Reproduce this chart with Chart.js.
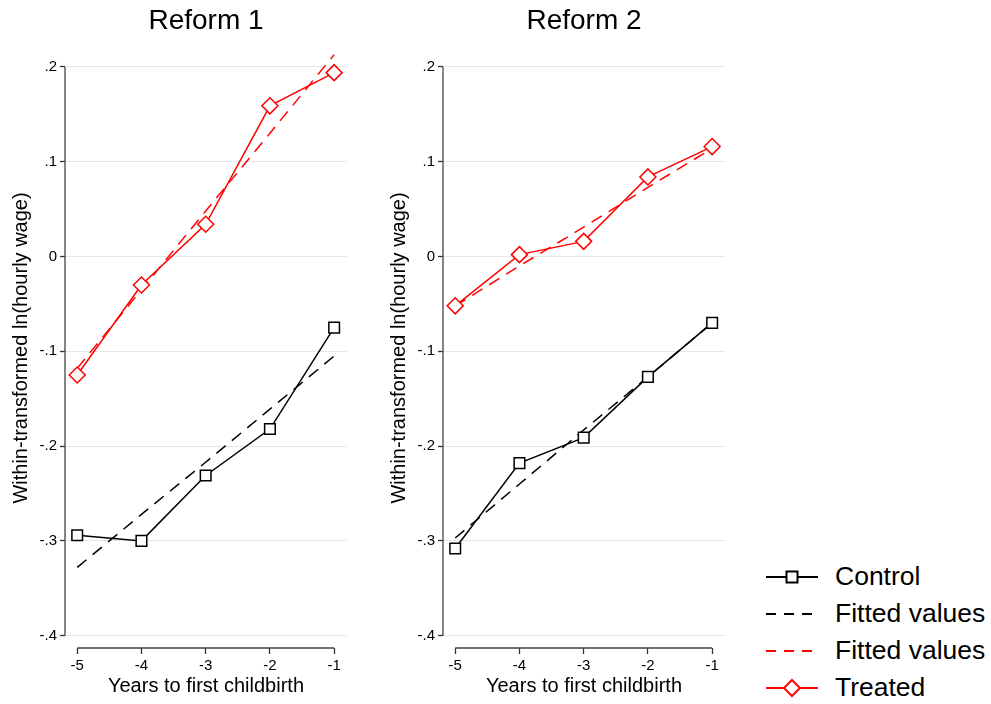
<!DOCTYPE html>
<html>
<head>
<meta charset="utf-8">
<script src="https://cdn.jsdelivr.net/npm/chart.js@4.4.1/dist/chart.umd.min.js"></script>
<style>
  body { margin: 0; background: #fff; width: 991px; height: 704px; position: relative; overflow: hidden;
         font-family: "Liberation Sans", Arial, sans-serif; }
  canvas { position: absolute; top: 0; }
  #c1 { left: 0; }
  #c2 { left: 378px; }
  #legend { position: absolute; left: 766px; top: 558px; }
  .row { height: 37px; display: flex; align-items: center; font-size: 26.5px; color: #000; }
  .row svg { margin-right: 17px; }
</style>
</head>
<body>
<canvas id="c1" width="360" height="704"></canvas>
<canvas id="c2" width="360" height="704"></canvas>

<div id="legend">
  <div class="row">
    <svg width="52" height="20"><line x1="0" y1="10" x2="52" y2="10" stroke="#000" stroke-width="2"/><rect x="20.5" y="4.5" width="11" height="11" fill="#fff" stroke="#000" stroke-width="2"/></svg>Control
  </div>
  <div class="row">
    <svg width="52" height="20"><line x1="0" y1="10" x2="52" y2="10" stroke="#000" stroke-width="2" stroke-dasharray="10 8"/></svg>Fitted values
  </div>
  <div class="row">
    <svg width="52" height="20"><line x1="0" y1="10" x2="52" y2="10" stroke="#ff0000" stroke-width="2" stroke-dasharray="10 8"/></svg>Fitted values
  </div>
  <div class="row">
    <svg width="52" height="20"><line x1="0" y1="10" x2="52" y2="10" stroke="#ff0000" stroke-width="2"/><polygon points="26,2 34,10 26,18 18,10" fill="#fff" stroke="#ff0000" stroke-width="2"/></svg>Treated
  </div>
</div>

<script>
// données
const years = [-5, -4, -3, -2, -1];

const r1Control    = [-0.294, -0.300, -0.231, -0.182, -0.075];
const r1ControlFit = [-0.328, -0.272, -0.217, -0.161, -0.105];
const r1Treated    = [-0.125, -0.030,  0.034,  0.159,  0.194];
const r1TreatedFit = [-0.118, -0.035,  0.048,  0.130,  0.213];

const r2Control    = [-0.308, -0.218, -0.191, -0.127, -0.070];
const r2ControlFit = [-0.297, -0.240, -0.183, -0.127, -0.070];
const r2Treated    = [-0.052,  0.002,  0.016,  0.084,  0.116];
const r2TreatedFit = [-0.052, -0.010,  0.031,  0.073,  0.114];

const xTicks = [-5, -4, -3, -2, -1];
const yTicks = [-0.4, -0.3, -0.2, -0.1, 0, 0.1, 0.2];
const yTickLabels = ['-.4', '-.3', '-.2', '-.1', '0', '.1', '.2'];

Chart.defaults.font.family = '"Liberation Sans", Arial, sans-serif';
Chart.defaults.color = '#000';

function toXY(vals) {
  return years.map((x, i) => ({ x: x, y: vals[i] }));
}

// lignes d'axe façon Stata (seulement sur l'étendue des ticks)
const axisLines = {
  id: 'axisLines',
  afterDraw(chart) {
    const ctx = chart.ctx;
    const xs = chart.scales.x, ys = chart.scales.y;
    const area = chart.chartArea;
    ctx.save();
    ctx.strokeStyle = '#444';
    ctx.lineWidth = 1.3;
    ctx.beginPath();
    ctx.moveTo(area.left, ys.getPixelForValue(yTicks[yTicks.length - 1]));
    ctx.lineTo(area.left, ys.getPixelForValue(yTicks[0]));
    ctx.moveTo(xs.getPixelForValue(xTicks[0]), area.bottom);
    ctx.lineTo(xs.getPixelForValue(xTicks[xTicks.length - 1]), area.bottom);
    ctx.stroke();
    ctx.restore();
  }
};

function makeChart(id, title, control, controlFit, treated, treatedFit) {
  return new Chart(document.getElementById(id), {
    type: 'line',
    data: {
      datasets: [
        {
          label: 'Control',
          data: toXY(control),
          borderColor: '#000',
          borderWidth: 1.5,
          pointStyle: 'rect',
          pointRadius: 7.5,
          pointBackgroundColor: '#fff',
          pointBorderColor: '#000',
          pointBorderWidth: 1.5
        },
        {
          label: 'Treated',
          data: toXY(treated),
          borderColor: '#ff0000',
          borderWidth: 1.5,
          pointStyle: 'rectRot',
          pointRadius: 8,
          pointBackgroundColor: '#fff',
          pointBorderColor: '#ff0000',
          pointBorderWidth: 1.5
        },
        {
          label: 'Fitted values',
          data: toXY(controlFit),
          borderColor: '#000',
          borderWidth: 1.5,
          borderDash: [12, 8],
          pointRadius: 0
        },
        {
          label: 'Fitted values',
          data: toXY(treatedFit),
          borderColor: '#ff0000',
          borderWidth: 1.5,
          borderDash: [12, 8],
          pointRadius: 0
        }
      ]
    },
    options: {
      responsive: false,
      animation: false,
      events: [],
      layout: { padding: { left: 0, right: 13, top: 0, bottom: 0 } },
      plugins: {
        legend: { display: false },
        tooltip: { enabled: false },
        title: {
          display: true,
          text: title,
          fullSize: false,
          color: '#000',
          font: { size: 28, weight: 'normal' },
          padding: { top: 4, bottom: 10.4 }
        }
      },
      scales: {
        x: {
          type: 'linear',
          min: -5.19,
          max: -0.8,
          afterBuildTicks: s => { s.ticks = xTicks.map(v => ({ value: v })); },
          afterFit: s => { s.height = 56; },
          border: { display: false },
          grid: { drawOnChartArea: false, tickColor: '#333', tickLength: 6, tickWidth: 1.3 },
          ticks: { font: { size: 15 }, padding: 3, maxRotation: 0, callback: v => String(v) },
          title: {
            display: true,
            text: 'Years to first childbirth',
            font: { size: 20 },
            padding: { top: 0, bottom: 6 }
          }
        },
        y: {
          min: -0.413,
          max: 0.22,
          afterBuildTicks: s => { s.ticks = yTicks.map(v => ({ value: v })); },
          afterFit: s => { s.width = 65; },
          border: { display: false },
          grid: { color: '#e6e6e6', lineWidth: 1, tickColor: '#333', tickLength: 5, tickWidth: 1.3 },
          ticks: { font: { size: 15 }, padding: 3, callback: (v, i) => yTickLabels[i] },
          title: {
            display: true,
            text: 'Within-transformed ln(hourly wage)',
            font: { size: 20 },
            padding: { top: 9, bottom: 0 }
          }
        }
      }
    },
    plugins: [axisLines]
  });
}

makeChart('c1', 'Reform 1', r1Control, r1ControlFit, r1Treated, r1TreatedFit);
makeChart('c2', 'Reform 2', r2Control, r2ControlFit, r2Treated, r2TreatedFit);
</script>
</body>
</html>
